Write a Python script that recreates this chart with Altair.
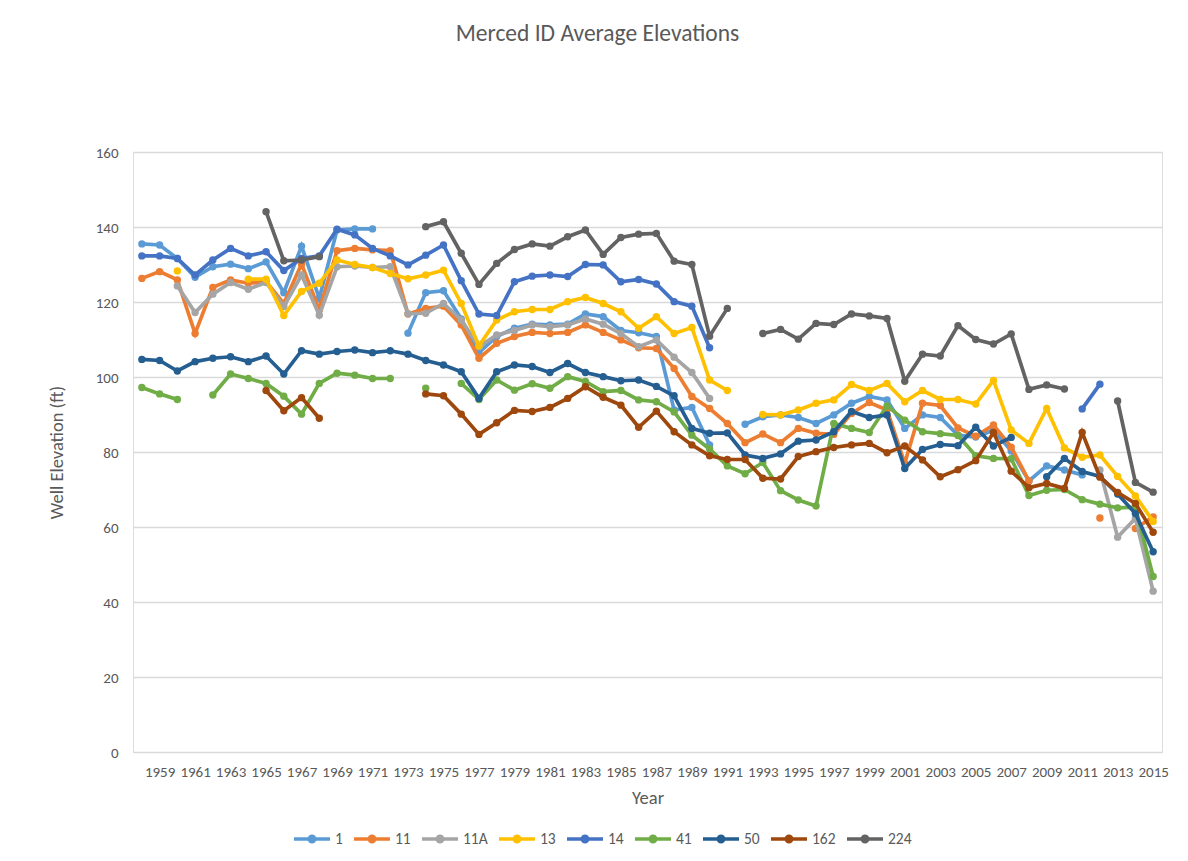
import altair as alt
import pandas as pd

YEARS = list(range(1958, 2016))
SERIES = ["1", "11", "11A", "13", "14", "41", "50", "162", "224"]
COLORS = ["#5B9BD5", "#ED7D31", "#A5A5A5", "#FFC000", "#4472C4",
          "#70AD47", "#255E91", "#9E480E", "#636363"]
N = None

# values by year, 1958 ... 2015 (None = no reading)
s_1 = [135.5, 135.2, 131.6, 126.6, 129.4, 130.1, 128.9, 130.7, 122.5, 134.9,
       121.0, 139.2, 139.5, 139.5, N, 111.7, 122.5, 123.0, 115.5, 106.5,
       110.8, 113.0, 114.1, 113.9, 114.1, 116.8, 116.1, 112.4, 111.8, 110.8,
       91.2, 91.9, 81.9, N, 87.4, 89.4, 89.9, 89.2, 87.6, 89.9,
       93.0, 94.8, 93.9, 86.3, 89.9, 89.2, 84.5, 84.0, 85.8, 80.3,
       72.3, 76.3, 75.2, 73.9, N, N, N, N]
s_11 = [126.3, 128.1, 125.9, 111.6, 123.9, 125.9, 125.0, 125.4, 119.6, 130.1,
        117.9, 133.7, 134.3, 133.9, 133.7, 116.8, 118.3, 118.9, 113.9, 105.0,
        109.0, 110.8, 111.9, 111.6, 111.9, 113.9, 111.9, 109.9, 107.8, 107.6,
        102.3, 94.8, 91.6, 87.6, 82.5, 84.8, 82.5, 86.3, 85.0, 84.7,
        90.3, 93.2, 91.2, 77.0, 93.0, 92.4, 86.4, 84.2, 87.2, 81.3,
        72.3, N, N, N, 62.4, N, 59.6, 62.7]
s_11A = [N, N, 124.3, 117.2, 122.1, 125.2, 123.4, 125.2, 118.8, 127.2,
         116.5, 129.4, 129.6, 129.2, 129.4, 116.9, 117.0, 119.6, 115.2, 108.1,
         111.2, 112.4, 113.9, 113.4, 113.9, 115.5, 114.1, 111.6, 108.1, 109.9,
         105.3, 101.2, 94.3, N, N, N, N, N, N, N,
         N, N, N, N, N, N, N, N, N, N,
         N, N, N, N, 75.2, 57.3, 62.3, 42.9]
s_13 = [N, N, 128.3, N, N, N, 126.1, 126.1, 116.4, 122.8,
        125.0, 131.2, 130.0, 129.2, 127.6, 126.2, 127.2, 128.5, 119.6, 108.3,
        115.2, 117.4, 118.0, 118.0, 120.1, 121.2, 119.6, 117.4, 113.0, 116.1,
        111.6, 113.2, 99.2, 96.4, N, 90.0, 89.9, 91.2, 93.0, 93.9,
        98.0, 96.4, 98.3, 93.4, 96.4, 94.0, 94.0, 92.8, 99.1, 85.9,
        82.3, 91.6, 81.1, 78.6, 79.2, 73.5, 68.3, 61.5]
s_14 = [132.3, 132.3, 131.6, 127.2, 131.2, 134.3, 132.3, 133.4, 128.4, 131.6,
        132.3, 139.4, 137.9, 134.3, 132.3, 129.9, 132.5, 135.2, 125.7, 116.8,
        116.4, 125.4, 126.9, 127.2, 126.8, 130.0, 129.9, 125.4, 126.0, 124.8,
        120.1, 118.9, 107.8, N, N, N, N, N, N, N,
        N, N, N, N, N, N, N, N, N, N,
        N, N, N, 91.5, 98.1, N, N, N]
s_41 = [97.2, 95.5, 94.0, N, 95.2, 100.8, 99.6, 98.3, 94.9, 90.1,
        98.3, 101.0, 100.5, 99.6, 99.6, N, 97.0, N, 98.3, 94.0,
        99.2, 96.5, 98.2, 97.0, 100.1, 98.8, 96.1, 96.4, 93.9, 93.4,
        90.7, 84.5, 80.8, 76.3, 74.2, 77.2, 69.7, 67.2, 65.6, 87.6,
        86.3, 85.2, 92.3, 88.5, 85.4, 84.9, 84.4, 79.0, 78.3, 78.2,
        68.4, 69.8, 70.0, 67.3, 66.1, 65.1, 65.3, 46.8]
s_50 = [104.7, 104.4, 101.6, 104.1, 105.0, 105.4, 104.1, 105.6, 100.8, 107.0,
        106.1, 106.8, 107.2, 106.5, 107.0, 106.1, 104.4, 103.2, 101.4, 94.3,
        101.4, 103.2, 102.8, 101.2, 103.6, 101.2, 100.1, 99.0, 99.2, 97.5,
        95.0, 86.3, 85.0, 85.1, 79.2, 78.3, 79.5, 82.9, 83.2, 85.4,
        90.8, 89.2, 89.9, 75.6, 80.7, 82.0, 81.7, 86.6, 81.6, 83.9,
        N, 73.4, 78.3, 74.8, 73.5, 68.8, 63.6, 53.4]
s_162 = [N, N, N, N, N, N, N, 96.4, 91.0, 94.5,
         89.0, N, N, N, N, N, 95.5, 95.0, 90.1, 84.7,
         87.8, 91.1, 90.8, 91.9, 94.3, 97.4, 94.6, 92.5, 86.6, 90.9,
         85.4, 81.9, 79.0, 78.0, 78.0, 73.0, 72.8, 78.8, 80.1, 81.2,
         81.9, 82.3, 79.8, 81.6, 77.9, 73.4, 75.3, 77.7, 85.2, 74.9,
         70.5, 71.6, 70.3, 85.2, 73.3, 69.2, 66.3, 58.6]
s_224 = [N, N, N, N, N, N, N, 144.1, 131.0, 131.2,
         132.1, N, N, N, N, N, 140.1, 141.4, 133.0, 124.7,
         130.3, 134.0, 135.5, 134.9, 137.4, 139.2, 132.7, 137.2, 138.1, 138.3,
         130.9, 130.0, 110.9, 118.3, N, 111.6, 112.7, 110.1, 114.3, 114.0,
         116.8, 116.3, 115.6, 98.9, 106.1, 105.6, 113.7, 110.0, 108.8, 111.5,
         96.7, 97.9, 96.8, N, N, 93.6, 71.9, 69.3]

VALUES = [s_1, s_11, s_11A, s_13, s_14, s_41, s_50, s_162, s_224]
X_TICKS = list(range(1959, 2016, 2))
Y_TICKS = [0, 20, 40, 60, 80, 100, 120, 140, 160]

rows = []
for name, vals in zip(SERIES, VALUES):
    seg = 0
    prev_none = True
    for yr, v in zip(YEARS, vals):
        if v is None:
            prev_none = True
            continue
        if prev_none:
            seg += 1
            prev_none = False
        rows.append({"series": name, "year": yr, "elev": v, "seg": f"{name}_{seg}"})
df = pd.DataFrame(rows)

FONT = "Carlito, Calibri, Lato, sans-serif"
GREY = "#595959"
SYMBOL = "M-1,0L1,0M0.15,0A0.15,0.15,0,1,1,-0.15,0A0.15,0.15,0,1,1,0.15,0Z"

x = alt.X("year:Q",
          scale=alt.Scale(domain=[1957.5, 2015.5], nice=False, zero=False),
          axis=alt.Axis(values=X_TICKS, format="d", title="Year", grid=False,
                        domain=False, ticks=False, labelPadding=12,
                        labelFontSize=15, labelColor=GREY, labelFont=FONT,
                        labelFlush=False, labelOverlap=False,
                        titleFont=FONT, titleFontSize=18.5, titleColor=GREY,
                        titleFontWeight="normal", titleX=514.5, titleY=45,
                        titleBaseline="middle", titleAlign="center"))
y = alt.Y("elev:Q",
          scale=alt.Scale(domain=[0, 160], nice=False),
          axis=alt.Axis(values=Y_TICKS, title="Well Elevation (ft)", grid=True,
                        gridColor="#D9D9D9", gridWidth=1.3, domain=False,
                        ticks=False, labelPadding=15, labelFontSize=15,
                        labelColor=GREY, labelFont=FONT,
                        titleFont=FONT, titleFontSize=18.5, titleColor=GREY,
                        titleFontWeight="normal", titleX=-77, titleY=300,
                        titleAngle=270, titleBaseline="middle",
                        titleAlign="center"))
color = alt.Color("series:N",
                  scale=alt.Scale(domain=SERIES, range=COLORS),
                  sort=SERIES,
                  legend=alt.Legend(orient="none", legendX=159, legendY=667,
                                    direction="horizontal", columns=9,
                                    gridAlign="none",
                                    title=None, symbolType=SYMBOL,
                                    symbolSize=1296, symbolStrokeWidth=3.5,
                                    labelFontSize=15.5, labelColor=GREY,
                                    labelFont=FONT, labelOffset=3,
                                    columnPadding=4))

layers = []
for name in SERIES:
    base = alt.Chart(df).transform_filter(alt.datum.series == name)
    line = base.mark_line(strokeWidth=3.7).encode(
        x=x, y=y, color=color, detail="seg:N")
    pts = base.mark_point(filled=True, size=55, opacity=1).encode(
        x=x, y=y, color=color)
    layers += [line, pts]

chart = alt.layer(*layers).properties(
    width=1029, height=600,
    title=alt.Title("Merced ID Average Elevations", fontSize=23.5, font=FONT,
                    color=GREY, fontWeight="normal", anchor="middle",
                    offset=100, dx=-50),
    padding={"left": 125, "top": 144, "right": 10, "bottom": 108},
    autosize=alt.AutoSizeParams(type="none"),
).configure_view(stroke=None).configure(background="white")

chart.save("out.html", embed_options={"renderer": "svg", "actions": False})
